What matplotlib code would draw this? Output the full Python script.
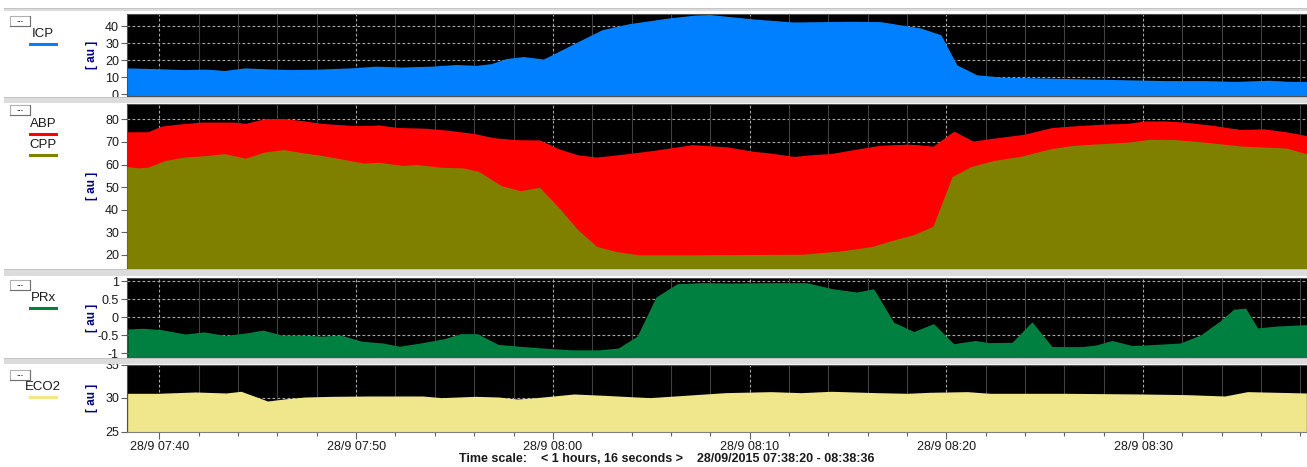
import matplotlib
matplotlib.use('Agg')
import matplotlib.pyplot as plt
from matplotlib.patches import Rectangle
from matplotlib.lines import Line2D

plt.rcParams['font.family'] = ['Liberation Sans', 'DejaVu Sans']

W, H = 1307, 467

# ---- time axis: minutes after 28/09/2015 07:38:20 ----
x_max = 60.0
major_ticks = [1.667, 11.667, 21.667, 31.667, 41.667, 51.667]
major_labels = ['28/9 07:40', '28/9 07:50', '28/9 08:00', '28/9 08:10', '28/9 08:20', '28/9 08:30']
minor_ticks = [1.667 + 2 * k for k in range(30)]

# ---- ICP ----
icp_t = [0, 1.67, 2.94, 3.97, 4.99, 6.01, 7.03, 8.31, 9.84, 11.37, 12.66, 13.94, 15.47, 16.75,
         17.77, 18.53, 19.3, 20.17, 21.19, 23.29, 24.16, 25.54, 27.59, 28.92, 29.63, 31.83,
         33.88, 36.8, 38.32, 40.37, 41.39, 42.2, 43.22, 44.6, 46.65, 48.69, 50.74, 52.79,
         54.83, 56.36, 58.05, 59.17, 60.27]
icp_v = [15.5, 15, 14.5, 14.8, 14, 15.5, 15, 14.5, 14.8, 15.5, 16.5, 16, 16.5, 17.5,
         17, 18, 21, 22.2, 20.7, 33, 38, 41.6, 45, 46.7, 47, 44.4,
         42.6, 43, 42.8, 39, 35, 17.3, 11.4, 10, 9.5, 9, 8.5, 8,
         8, 7.5, 8.2, 7.5, 7.5]

# ---- ABP ----
abp_t = [0.02, 1.08, 1.76, 2.54, 3.80, 5.45, 6.04, 7.01, 7.98, 8.95, 9.92, 11.67, 12.83, 13.80,
         15.16, 16.33, 17.69, 18.66, 19.82, 20.99, 21.96, 22.93, 23.90, 25.45, 26.81, 27.98,
         28.75, 30.57, 31.73, 32.69, 33.94, 35.01, 35.78, 36.94, 38.29, 39.64, 40.22, 40.99,
         42.05, 43.02, 44.27, 45.62, 46.98, 47.94, 49.68, 50.84, 51.80, 52.77, 53.73, 55.08,
         56.63, 57.79, 58.94, 59.87, 60.27]
abp_v = [74.5, 74.5, 77, 77.8, 78.8, 78.8, 78.2, 80.3, 80.4, 79.4, 78.2, 77.2, 77.5, 76.4,
         76.1, 75.2, 73.7, 71.9, 71, 70.9, 67, 64.3, 63.3, 64.8, 66.3, 67.8,
         68.8, 67.8, 66, 65.1, 63.6, 64.5, 64.8, 66.6, 68.5, 69, 68.8, 68.1,
         74.8, 70.4, 71.9, 73.4, 76.3, 77, 77.9, 78.2, 79.3, 79.3, 78.8, 77.5,
         75.5, 75.8, 74.5, 73, 72]

# ---- CPP ----
cpp_t = [0.02, 0.60, 1.08, 1.96, 2.93, 4.09, 4.97, 6.04, 7.01, 7.98, 8.95, 9.92, 10.89, 12.05,
         12.83, 13.99, 14.77, 15.94, 17.10, 17.88, 19.05, 20.02, 20.99, 21.96, 22.93, 23.90,
         24.87, 26.04, 28.75, 34.43, 36.36, 37.90, 38.87, 40.03, 40.99, 41.96, 42.92, 44.08,
         45.43, 46.98, 48.13, 49.68, 51.03, 52.00, 53.35, 54.70, 56.63, 58.94, 59.87, 60.27]
cpp_v = [59.1, 58.5, 58.8, 61.8, 63.3, 64, 64.8, 62.8, 65.5, 66.6, 65.2, 64, 62.5, 60.6,
         61, 59.6, 60, 58.8, 58.5, 57, 50.6, 48.4, 49.9, 41, 31.2, 23.7,
         21.5, 20, 20, 20.3, 21.8, 23.7, 26.3, 29, 32.7, 54.6, 59.1, 61.8,
         63.6, 67, 68.5, 69.3, 70, 71.2, 71, 70, 68.2, 67.3, 65, 64.5]

# ---- PRx ----
prx_t = [0.06, 0.83, 1.79, 2.98, 3.94, 5.02, 6.09, 6.93, 7.89, 8.96, 9.92, 10.88, 11.95, 13.03,
         13.87, 14.94, 16.14, 16.98, 17.82, 18.89, 19.97, 21.16, 22.60, 24.03, 24.99, 25.95,
         26.91, 27.98, 29.30, 30.73, 32.65, 34.56, 35.9, 36.7, 37.12, 37.97, 38.99, 40.01,
         41.02, 42.04, 43.14, 43.82, 45.01, 46.02, 47.04, 48.56, 49.24, 50.09, 51.11, 51.96,
         53.56, 54.58, 55.6, 56.27, 56.88, 57.49, 58.4, 60.27]
prx_v = [-0.33, -0.31, -0.35, -0.47, -0.41, -0.51, -0.44, -0.36, -0.50, -0.50, -0.53, -0.50, -0.67, -0.72,
         -0.81, -0.72, -0.60, -0.46, -0.46, -0.76, -0.81, -0.86, -0.91, -0.91, -0.86, -0.53,
         0.56, 0.93, 0.96, 0.95, 0.96, 0.96, 0.79, 0.73, 0.70, 0.79, -0.14, -0.40,
         -0.18, -0.74, -0.65, -0.71, -0.70, -0.13, -0.82, -0.82, -0.78, -0.65, -0.79, -0.77,
         -0.72, -0.5, -0.1, 0.22, 0.25, -0.3, -0.25, -0.2]

# ---- ECO2 ----
eco_t = [0.05, 1.59, 2.55, 3.51, 5.05, 5.82, 7.17, 8.13, 9.09, 10.44, 12.36, 15.05, 16.01, 17.74,
         18.90, 19.86, 20.82, 22.74, 24.28, 26.59, 28.13, 30.44, 32.74, 34.28, 35.82, 38.13,
         39.67, 40.82, 42.74, 43.90, 47.74, 51.59, 53.90, 55.82, 56.97, 59.97]
eco_v = [30.7, 30.7, 30.8, 30.9, 30.75, 31.0, 29.55, 29.9, 30.15, 30.25, 30.3, 30.3, 30.05, 30.25,
         30.15, 29.85, 30.05, 30.6, 30.4, 30.05, 30.35, 30.8, 30.95, 30.8, 31.0, 30.8,
         30.7, 30.85, 30.95, 30.7, 30.7, 30.6, 30.5, 30.3, 30.95, 30.75]

# ---- figure ----
fig = plt.figure(figsize=(W / 100, H / 100), dpi=100)
fig.patch.set_facecolor('white')

AX_L, AX_R = 126.6, 1307.0


def fx(x):
    return x / W


def fy(y):
    return 1 - y / H


def make_ax(top, bottom):
    return fig.add_axes([fx(AX_L), fy(bottom), fx(AX_R - AX_L), (bottom - top) / H])


panels = [
    dict(top=14, bottom=95.5, ylim=(-0.8, 47.3), yticks=[0, 10, 20, 30, 40],
         ylabels=['0', '10', '20', '30', '40']),
    dict(top=104, bottom=267.5, ylim=(14.4, 86.8), yticks=[20, 30, 40, 50, 60, 70, 80],
         ylabels=['20', '30', '40', '50', '60', '70', '80']),
    dict(top=278, bottom=357, ylim=(-1.11, 1.09), yticks=[-1, -0.5, 0, 0.5, 1],
         ylabels=['-1', '-0.5', '0', '0.5', '1']),
    dict(top=364.5, bottom=431.5, ylim=(25, 35), yticks=[25, 30, 35],
         ylabels=['25', '30', '35']),
]

axes = []
for i, p in enumerate(panels):
    ax = make_ax(p['top'], p['bottom'])
    ax.set_facecolor('black')
    ax.set_xlim(0, x_max)
    ax.set_ylim(*p['ylim'])
    ax.set_yticks(p['yticks'])
    ax.set_yticklabels(p['ylabels'])
    ax.tick_params(axis='y', direction='out', length=4, width=0.8, color='#606060',
                   labelsize=9, labelcolor='#1a1a1a', pad=1.5)
    for s in ax.spines.values():
        s.set_color('#505050')
        s.set_linewidth(0.8)
    # grid
    for yv in p['yticks']:
        ax.axhline(yv, color='#a8a8a8', lw=0.8, ls=(0, (2.5, 2)), zorder=1)
    for m in minor_ticks:
        if m in major_ticks:
            continue
        ax.axvline(m, color='#404040', lw=0.8, zorder=1)
    for m in major_ticks:
        ax.axvline(m, color='#a8a8a8', lw=0.8, ls=(0, (2.5, 2)), zorder=1)
    if i < 3:
        ax.set_xticks([])
    axes.append(ax)

ax1, ax2, ax3, ax4 = axes
ax1.fill_between(icp_t, icp_v, -1, color='#0080FF', lw=0, zorder=2)
ax2.fill_between(abp_t, abp_v, 0, color='#FF0000', lw=0, zorder=2)
ax2.fill_between(cpp_t, cpp_v, 0, color='#808000', lw=0, zorder=3)
ax3.fill_between(prx_t, prx_v, -2, color='#008040', lw=0, zorder=2)
ax4.fill_between(eco_t, eco_v, 20, color='#F0E68C', lw=0, zorder=2)

ax4.set_xticks(major_ticks)
ax4.set_xticklabels(major_labels)
ax4.set_xticks(minor_ticks, minor=True)
ax4.tick_params(axis='x', which='major', direction='out', length=5, width=0.8, color='#606060',
                labelsize=9, labelcolor='#1a1a1a', pad=2)
ax4.tick_params(axis='x', which='minor', direction='out', length=3, width=0.8, color='#606060')
ax4.spines['bottom'].set_color('#808080')

# separators
for (y0, y1) in [(8, 11), (97, 102.5), (269, 276), (358, 364.3)]:
    fig.add_artist(Rectangle((fx(4), fy(y1)), fx(W - 4), (y1 - y0) / H, transform=fig.transFigure,
                             facecolor='#dcdcdc', edgecolor='none', zorder=10))
    fig.add_artist(Line2D([fx(4), 1], [fy(y0), fy(y0)], transform=fig.transFigure,
                          color='#c0c0c0', lw=0.6, zorder=11))

# left legend area
buttons = [16, 105, 280, 370]
for yb in buttons:
    fig.add_artist(Rectangle((fx(10), fy(yb + 10)), fx(20), 10 / H, transform=fig.transFigure,
                             facecolor='white', edgecolor='#b0b0b0', lw=0.8, zorder=12))
    fig.add_artist(Line2D([fx(30), fx(30)], [fy(yb), fy(yb + 10)], transform=fig.transFigure,
                          color='#707070', lw=0.8, zorder=13))
    fig.add_artist(Line2D([fx(10), fx(30)], [fy(yb + 10), fy(yb + 10)], transform=fig.transFigure,
                          color='#707070', lw=0.8, zorder=13))
    fig.text(fx(20), fy(yb + 4.5), '...', ha='center', va='center', fontsize=6,
             fontweight='bold', color='black', zorder=14)

labels = [('ICP', 34, '#0080FF'), ('ABP', 124, '#FF0000'), ('CPP', 145, '#808000'),
          ('PRx', 298, '#008040'), ('ECO2', 387, '#F0E68C')]
for txt, yl, col in labels:
    fig.text(fx(43), fy(yl), txt, ha='center', va='center', fontsize=9.5, color='#1a1a1a')
    fig.add_artist(Line2D([fx(29.5), fx(55.5)], [fy(yl + 10), fy(yl + 10)],
                          transform=fig.transFigure, color=col, lw=2.2, zorder=12))

for p in panels:
    yc = (p['top'] + p['bottom']) / 2
    fig.text(fx(92), fy(yc), '[ au ]', rotation=90, ha='center', va='center', fontsize=8.5,
             fontweight='bold', color='#000080')

fig.text(fx(667), fy(459), 'Time scale:    < 1 hours, 16 seconds >    28/09/2015 07:38:20 - 08:38:36',
         ha='center', va='center', fontsize=9, fontweight='bold', color='#1a1a1a')

fig.savefig('out.png', dpi=100, facecolor='white')
